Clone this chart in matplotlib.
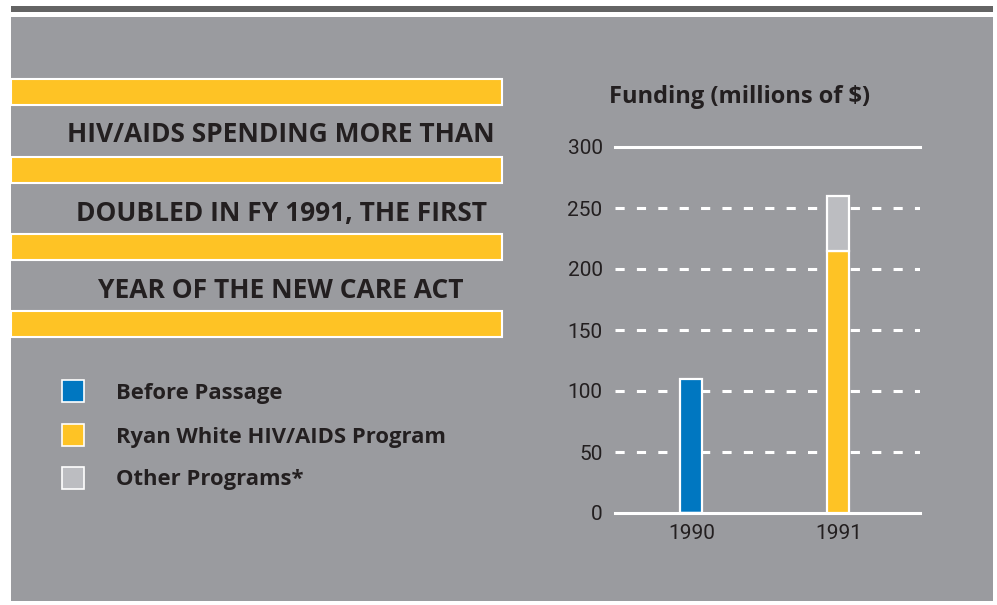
import matplotlib.pyplot as plt
from matplotlib.patches import Rectangle

# Datos (millones de $)
years = ['1990', '1991']
before_passage = [110, 0]
ryan_white = [0, 215]
other_programs = [0, 45]

headline = ['HIV/AIDS SPENDING MORE THAN',
            'DOUBLED IN FY 1991, THE FIRST',
            'YEAR OF THE NEW CARE ACT']
legend_labels = ['Before Passage', 'Ryan White HIV/AIDS Program', 'Other Programs*']
y_ticks = [0, 50, 100, 150, 200, 250, 300]

BLUE = '#0077c1'
YELLOW = '#fec325'
LGRAY = '#bcbdc1'
PANEL = '#9a9b9f'
INK = '#231f20'
W, H = 997, 605

fig = plt.figure(figsize=(W / 100, H / 100), dpi=100)
fig.patch.set_facecolor('white')

# Capa de fondo en coordenadas de pixel
bg = fig.add_axes([0, 0, 1, 1])
bg.set_xlim(0, W)
bg.set_ylim(H, 0)
bg.axis('off')

bg.add_patch(Rectangle((11, 6), 982, 6, facecolor='#646464', edgecolor='none'))
bg.add_patch(Rectangle((11, 17), 982, 584, facecolor=PANEL, edgecolor='none'))

# Franjas amarillas
for y0 in [79, 157, 234, 311]:
    bg.add_patch(Rectangle((11, y0), 491, 26, facecolor=YELLOW,
                           edgecolor='white', linewidth=1.5))

for line, yc in zip(headline, [135, 213, 291]):
    bg.text(281, yc, line, ha='center', va='center', fontsize=19,
            fontweight='bold', family='Open Sans', color=INK)

# Leyenda
for lab, col, yc in zip(legend_labels, [BLUE, YELLOW, LGRAY], [391, 435, 478]):
    bg.add_patch(Rectangle((62, yc - 11), 22, 22, facecolor=col,
                           edgecolor='white', linewidth=1.2))
    bg.text(116, yc + 2, lab, ha='left', va='center', fontsize=15.8,
            fontweight='bold', family='Open Sans', color=INK)

bg.text(740, 97, 'Funding (millions of $)', ha='center', va='center',
        fontsize=17, fontweight='bold', family='Open Sans', color=INK)

# Grafico de barras
ax = fig.add_axes([615 / W, 1 - 513 / H, 305 / W, 366 / H])
ax.patch.set_alpha(0)
ax.set_ylim(0, 300)
ax.set_xlim(-0.52, 1.555)

for v in y_ticks:
    if v in (0, 300):
        ax.axhline(v, color='white', lw=2.2, zorder=1, clip_on=False)
    else:
        ax.axhline(v, color='white', lw=2.2, ls=(0, (3, 4)), zorder=1)

x = range(len(years))
kw = dict(width=0.15, edgecolor='white', linewidth=1.6, zorder=3)
ax.bar(x, before_passage, color=BLUE, **kw)
ax.bar(x, ryan_white, color=YELLOW, **kw)
ax.bar(x, other_programs, bottom=ryan_white, color=LGRAY, **kw)

for s in ax.spines.values():
    s.set_visible(False)
ax.set_yticks(y_ticks)
ax.set_xticks(list(x))
ax.set_xticklabels(years)
ax.tick_params(length=0, labelsize=15, labelcolor=INK)
ax.tick_params(axis='y', pad=9)
ax.tick_params(axis='x', pad=8)
for t in ax.get_xticklabels() + ax.get_yticklabels():
    t.set_family('Roboto')

fig.savefig('out.png', dpi=100)
